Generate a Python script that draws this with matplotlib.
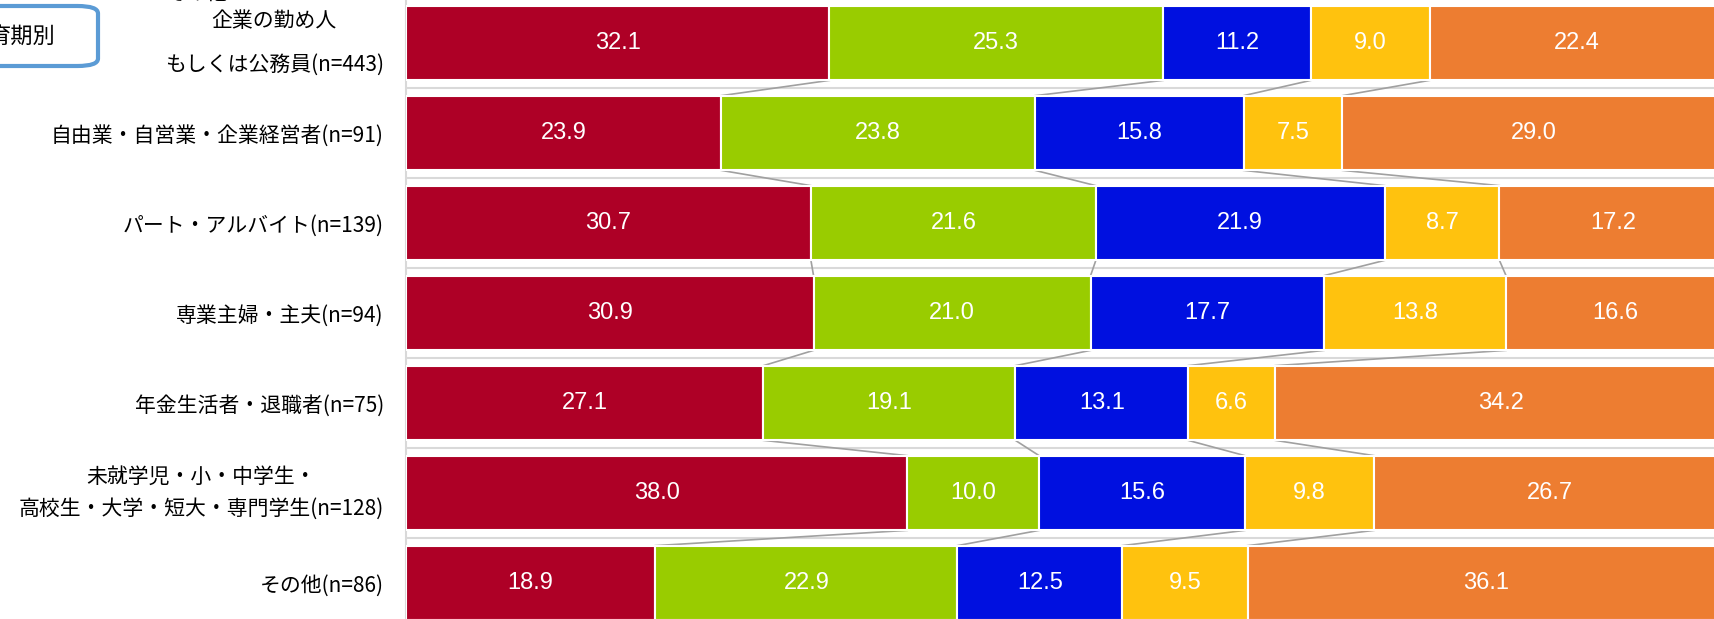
import matplotlib.pyplot as plt
import numpy as np
from matplotlib.patches import FancyBboxPatch

plt.rcParams['font.family'] = ['Noto Sans CJK JP', 'DejaVu Sans']

# データ
labels = ['企業の勤め人\nもしくは公務員(n=443)',
          '自由業・自営業・企業経営者(n=91)',
          'パート・アルバイト(n=139)',
          '専業主婦・主夫(n=94)',
          '年金生活者・退職者(n=75)',
          '未就学児・小・中学生・\n高校生・大学・短大・専門学生(n=128)',
          'その他(n=86)']
s1 = [32.1, 23.9, 30.7, 30.9, 27.1, 38.0, 18.9]
s2 = [25.3, 23.8, 21.6, 21.0, 19.1, 10.0, 22.9]
s3 = [11.2, 15.8, 21.9, 17.7, 13.1, 15.6, 12.5]
s4 = [9.0, 7.5, 8.7, 13.8, 6.6, 9.8, 9.5]
s5 = [22.4, 29.0, 17.2, 16.6, 34.2, 26.7, 36.1]
colors = ['#ae0026', '#99cc00', '#0010e0', '#ffc20e', '#ed7d31']

W, H = 1715, 619
fig = plt.figure(figsize=(W / 100, H / 100), dpi=100)
ax = fig.add_axes([406 / W, 0, (1725 - 406) / W, 1])

series = np.array([s1, s2, s3, s4, s5])
y = np.arange(len(labels))
h = 0.83
left = np.zeros(len(labels))
for vals, c in zip(series, colors):
    ax.barh(y, vals, left=left, height=h, color=c, edgecolor='white', linewidth=1.5, zorder=3)
    for yi, l, v in zip(y, left, vals):
        ax.text(l + v / 2, yi, f'{v:.1f}', ha='center', va='center', color='white',
                fontsize=17, family=['Liberation Sans'], zorder=4)
    left = left + vals

# 接続線
cum = np.cumsum(series, axis=0)[:-1]
for i in range(len(labels) - 1):
    for k in range(cum.shape[0]):
        ax.plot([cum[k, i], cum[k, i + 1]], [i + h / 2, i + 1 - h / 2],
                color='#a0a0a0', lw=1.2, zorder=2)

for i in range(len(labels) - 1):
    ax.axhline(i + 0.5, color='#d9d9d9', lw=1.5, zorder=1)

ax.set_xlim(0, 100)
ax.set_ylim(6.4, -0.478)
ax.set_yticks(y)
ax.set_yticklabels(labels, fontsize=15, multialignment='center')
ax.tick_params(axis='y', length=0, pad=16)
ax.set_xticks([])
for s in ['top', 'right', 'bottom']:
    ax.spines[s].set_visible(False)
ax.spines['left'].set_color('#d9d9d9')
ax.spines['left'].set_linewidth(1.5)
tl = ax.get_yticklabels()
tl[0].set_linespacing(2.25)
tl[0].set_va('center')
tl[5].set_linespacing(1.6)
tl[5].set_va('center')

fig.text(197 / W, 1 + 6 / H, 'その他', ha='center', va='center', fontsize=15)

box = FancyBboxPatch((-30 / W, 1 - 66 / H), 128 / W, 60 / H,
                     boxstyle='round,pad=0,rounding_size=0.012', transform=fig.transFigure,
                     facecolor='white', edgecolor='#5b9bd5', linewidth=3, clip_on=False)
fig.patches.append(box)
fig.text(55 / W, 1 - 36 / H, '育期別', ha='right', va='center', fontsize=16)

fig.savefig('out.png', dpi=100)
